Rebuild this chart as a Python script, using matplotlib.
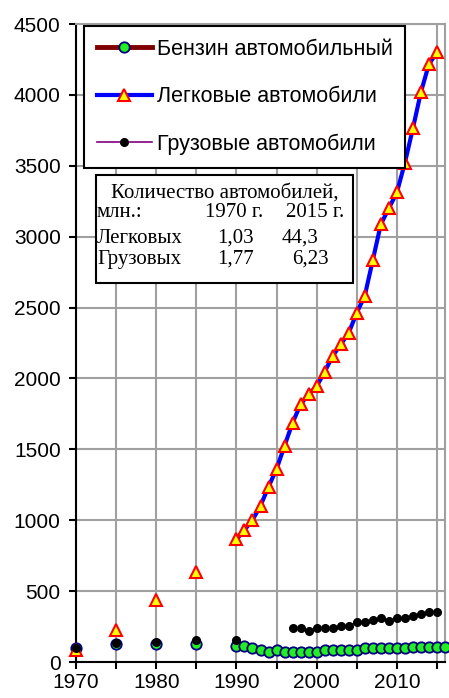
import numpy as np
import pandas as pd
import matplotlib
matplotlib.use("Agg")
from matplotlib import pyplot as plt
from matplotlib.patches import Rectangle

W, H = 449, 698

# --- data -----------------------------------------------------------------
gas_years = [1970, 1975, 1980, 1985] + list(range(1990, 2017))
gas_values = [101, 127, 127, 125,
              110, 112, 97, 85, 70, 85, 73, 73, 73, 73, 68,
              85, 85, 85, 85, 85,
              97, 97, 97, 97, 97, 97,
              108, 108, 108, 108, 108]

car_years = [1970, 1975, 1980, 1985] + list(range(1990, 2016))
car_values = [85, 225, 437, 632,
              865, 931, 1001, 1102, 1236, 1361, 1525, 1688, 1817, 1890,
              1944, 2047, 2158, 2240, 2322, 2463, 2583, 2835, 3087, 3200,
              3312, 3521, 3764, 4020, 4217, 4300]

truck_years = [1970, 1975, 1980, 1985, 1990] + list(range(1997, 2016))
truck_values = [97, 132, 139, 155, 155,
                237, 237, 221, 237, 237, 237, 256, 256, 280, 280,
                296, 308, 291, 308, 308, 327, 338, 355, 350]

labels = ["Бензин автомобильный", "Легковые автомобили", "Грузовые автомобили"]

table_rows = [
    ("млн.:", "1970 г.", "2015 г."),
    ("Легковых", "1,03", "44,3"),
    ("Грузовых", "1,77", "6,23"),
]
table_title = "Количество автомобилей,"

full_years = range(1970, 2017)


def on_grid(years, values):
    # empty years break the line, as in the spreadsheet
    return pd.Series(values, index=years, dtype=float).reindex(full_years)


def px(x, y):
    return x / W, 1 - y / H


plt.rcParams['font.family'] = ['Liberation Sans', 'DejaVu Sans']

fig = plt.figure(figsize=(W / 100, H / 100), dpi=100)
ax = fig.add_axes([76 / W, 36 / H, 369 / W, 638 / H])

gas = on_grid(gas_years, gas_values)
car = on_grid(car_years, car_values)
truck = on_grid(truck_years, truck_values)

ax.plot(gas.index, gas.values, color='#800000', lw=3.5, marker='o',
        ms=7.5, mfc='#22ee22', mec='#000080', mew=1.3, label=labels[0],
        zorder=3, clip_on=False)
ax.plot(car.index, car.values, color='#0000ff', lw=3, marker='^',
        ms=9, mfc='#ffff00', mec='#ff0000', mew=1.5, label=labels[1],
        zorder=4, clip_on=False)
ax.plot(truck.index, truck.values, color='#800080', lw=1.2, marker='o',
        ms=5.5, mfc='black', mec='black', label=labels[2],
        zorder=5, clip_on=False)

ax.set_xlim(1970, 2016)
ax.set_ylim(0, 4500)
ax.set_xticks(range(1970, 2016, 5))
ax.set_xticklabels([str(y) if y % 10 == 0 else "" for y in range(1970, 2016, 5)])
ax.set_yticks(range(0, 4501, 500))
ax.grid(True, color='#a0a0a0', lw=1.5)
ax.set_axisbelow(True)
ax.tick_params(labelsize=15, width=1.5, length=5, color='black')
ax.tick_params(axis='y', pad=6)
ax.tick_params(axis='x', pad=3)
for side in ('left', 'bottom'):
    ax.spines[side].set_color('black')
    ax.spines[side].set_linewidth(1.5)
for side in ('top', 'right'):
    ax.spines[side].set_color('#a0a0a0')
    ax.spines[side].set_linewidth(1.5)

leg = ax.legend(loc='upper left', bbox_to_anchor=px(84, 26),
                bbox_transform=fig.transFigure, fontsize=15.5, fancybox=False,
                framealpha=1, edgecolor='black', borderpad=0.6,
                labelspacing=1.22, handlelength=2.55, handletextpad=0.22,
                borderaxespad=0)
leg.get_frame().set_linewidth(1.5)
leg.set_zorder(10)

# text box with the car counts
fig.add_artist(Rectangle(px(96, 283), 257 / W, 108 / H, transform=fig.transFigure,
                         facecolor='white', edgecolor='black', lw=1.5, zorder=10))
serif = dict(family='Liberation Serif', fontsize=15, va='baseline', zorder=11)
fig.text(*px(225, 198), table_title, ha='center', **serif)
row_y = [217, 243, 264]
num_x = [[97, 205, 286], [97, 217, 282], [97, 217, 292]]
for row, xs, y in zip(table_rows, num_x, row_y):
    for cell, x in zip(row, xs):
        fig.text(*px(x, y), cell, ha='left', **serif)

fig.savefig("out.png", dpi=100)
